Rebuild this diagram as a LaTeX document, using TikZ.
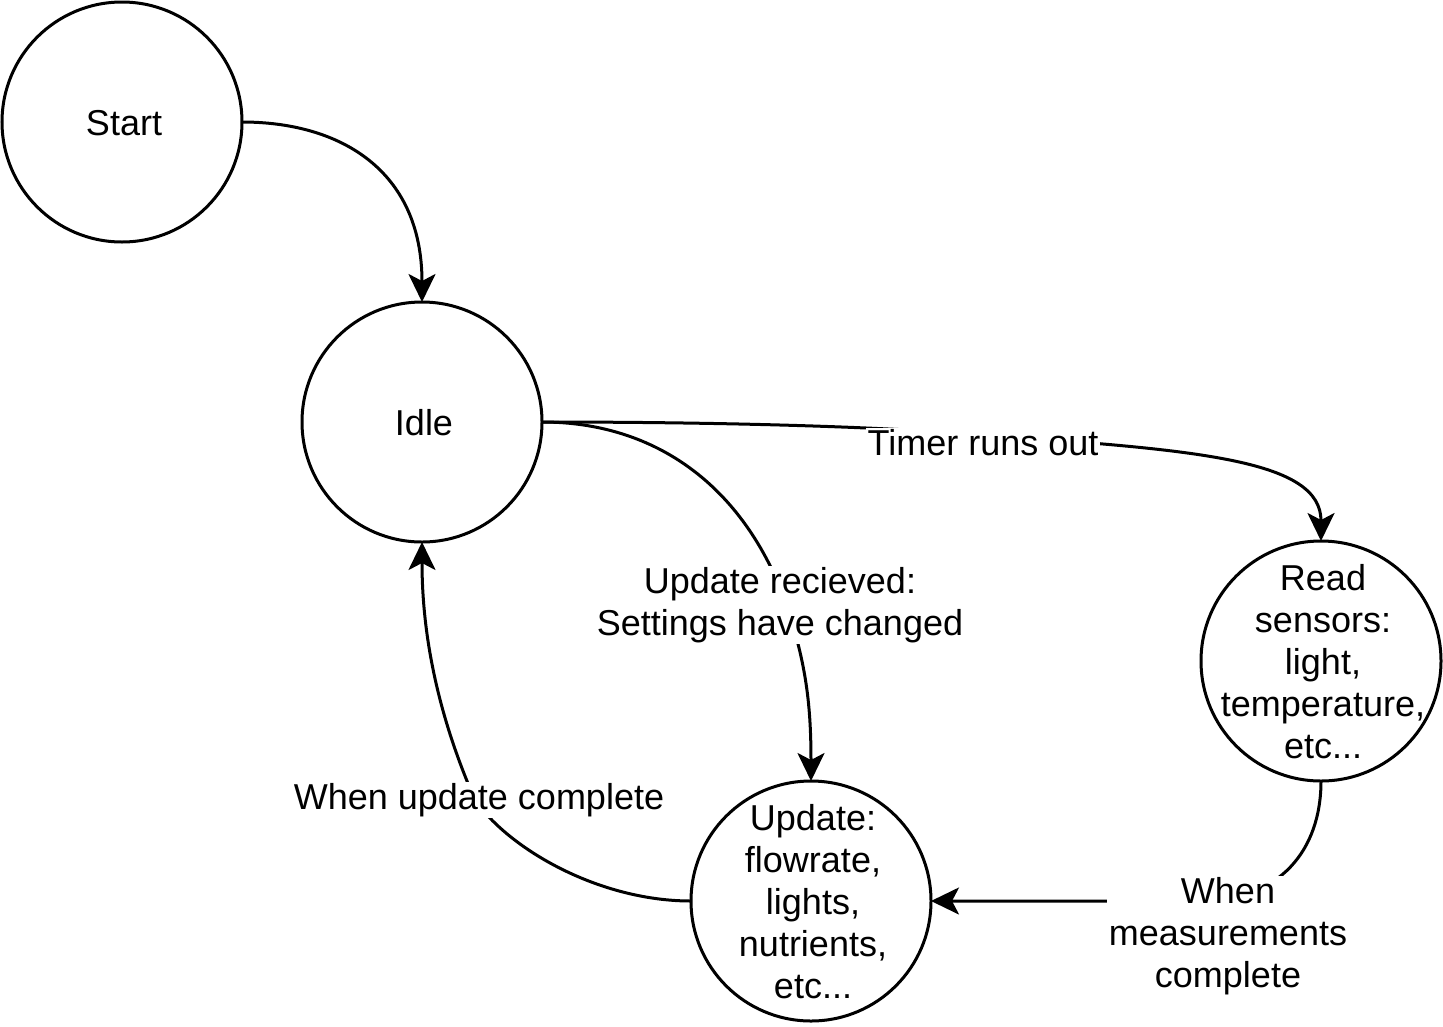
\documentclass[tikz,border=0pt]{standalone}
\usepackage{fontspec}
\setmainfont{Liberation Sans}
\usetikzlibrary{arrows.meta}
\tikzset{
  statecirc/.style={circle, draw=black, line width=3pt, minimum size=240pt, inner sep=0pt, outer sep=0pt},
  txt/.style={align=center, font=\fontsize{36}{42}\selectfont, inner sep=0pt, xshift=2pt, yshift=-1pt},
  lbl/.style={align=center, font=\fontsize{36}{42}\selectfont, fill=white, inner sep=1.5pt},
  conn/.style={line width=3pt, -{Stealth[length=28pt,width=27pt,inset=7pt]}},
}
\begin{document}
\begin{tikzpicture}[x=1pt,y=-1pt]
\useasboundingbox (0,0) rectangle (1443,1026);
% states
\node[statecirc] (start) at (122,122) {};
\node[txt] at (start) {Start};
\node[statecirc] (idle) at (422,422) {};
\node[txt] at (idle) {Idle};
\node[statecirc] (rs) at (1321,661) {};
\node[txt] at (rs) {Read\\sensors:\\light,\\temperature,\\etc...};
\node[statecirc] (upd) at (811,901) {};
\node[txt] at (upd) {Update:\\flowrate,\\lights,\\nutrients,\\etc...};
% connectors
\draw[conn] (start.east) .. controls (340,122) and (422,170) .. (idle.north);
\draw[conn] (idle.east) .. controls (750,422) and (900,428) .. (983,435)
   .. controls (1200,450) and (1321,460) .. (rs.north);
\draw[conn] (idle.east) .. controls (650,422) and (740,480) .. (785,600)
   .. controls (805,660) and (811,700) .. (upd.north);
\draw[conn] (upd.west) .. controls (600,901) and (510,850) .. (475,800)
   .. controls (440,720) and (422,640) .. (idle.south);
\draw[conn] (rs.south) .. controls (1321,850) and (1280,901) .. (1200,901) -- (upd.east);
% labels
\node[lbl] (l1) at (983,443) {Timer runs out};
\node[lbl] (l2) at (780,605) {Update recieved:\\Settings have changed};
\node[lbl] (l3) at (479,800) {When update complete};
\node[lbl] (l4) at (1228,936) {When\\measurements\\complete};
\end{tikzpicture}
\end{document}
